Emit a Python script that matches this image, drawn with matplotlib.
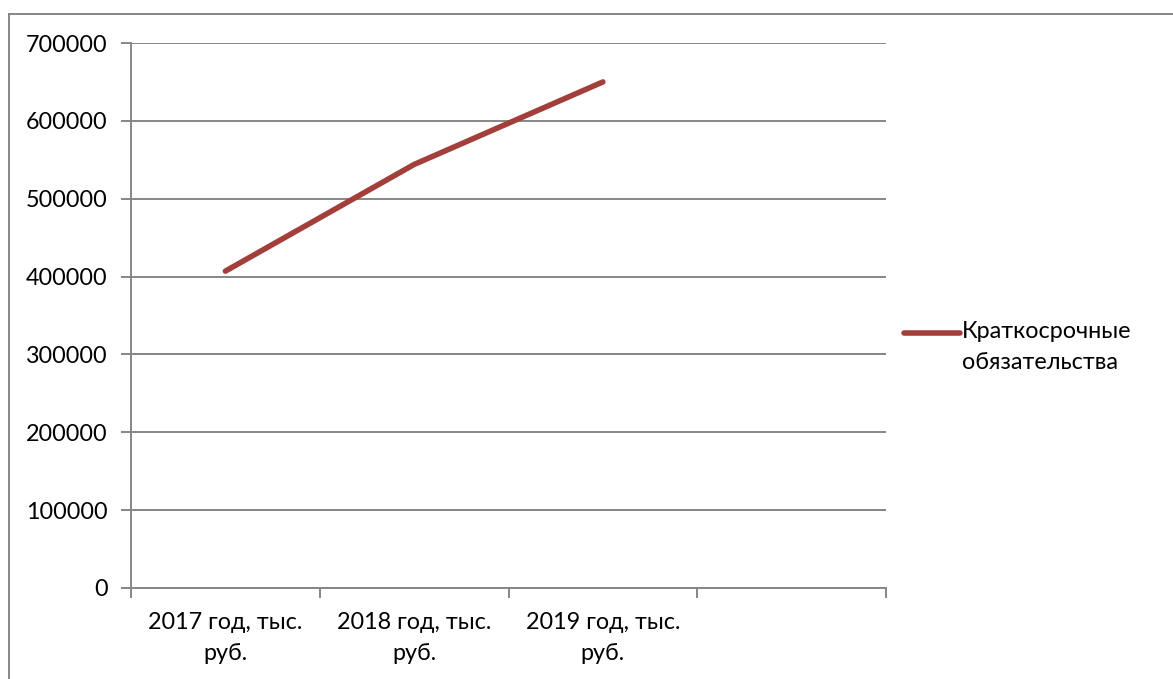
import matplotlib
matplotlib.use("Agg")
import matplotlib.pyplot as plt
from matplotlib.lines import Line2D

plt.rcParams["font.family"] = ["Lato", "DejaVu Sans"]

# short-term liabilities by year, thousand rubles
categories = ["2017 год, тыс.\nруб.", "2018 год, тыс.\nруб.", "2019 год, тыс.\nруб.", ""]
liabilities = [407000, 544000, 650000]
series_name = "Краткосрочные\nобязательства"
y_ticks = [0, 100000, 200000, 300000, 400000, 500000, 600000, 700000]

W, H = 1173, 679
GRID = "#868686"
LINE = "#A33F3B"
FS = 16.8

fig = plt.figure(figsize=(W / 100, H / 100), dpi=100)
ax = fig.add_axes([131 / W, 1 - 588 / H, (886 - 131) / W, (588 - 43) / H])

x = [i + 0.5 for i in range(len(liabilities))]
ax.plot(x, liabilities, color=LINE, lw=4.0, solid_capstyle="round", solid_joinstyle="round", zorder=3)

ax.set_xlim(0, len(categories))
ax.set_ylim(y_ticks[0], y_ticks[-1])
ax.set_yticks(y_ticks)
ax.set_yticklabels([str(v) for v in y_ticks])
ax.yaxis.grid(True, color=GRID, lw=1.4)
ax.set_axisbelow(True)

# category boundaries as major ticks, labels centred between them
ax.set_xticks(range(len(categories) + 1))
ax.set_xticklabels([])
ax.set_xticks([i + 0.5 for i in range(len(categories))], minor=True)
ax.set_xticklabels(categories, minor=True, fontsize=FS, linespacing=1.6)
ax.tick_params(axis="x", which="major", length=7, width=1.4, color=GRID, direction="out")
ax.tick_params(axis="x", which="minor", length=0, pad=17)
ax.tick_params(axis="y", length=7, width=1.4, color=GRID, labelsize=FS, pad=10)

for s in ("top", "right"):
    ax.spines[s].set_visible(False)
for s in ("left", "bottom"):
    ax.spines[s].set_color(GRID)
    ax.spines[s].set_linewidth(1.4)

# legend entry
fig.add_artist(Line2D([904 / W, 960 / W], [1 - 333 / H] * 2, color=LINE, lw=4.0,
                      solid_capstyle="round"))
fig.text(962 / W, 1 - 321 / H, series_name, fontsize=FS, va="top", ha="left", linespacing=1.6)

# chart area frame
fig.add_artist(Line2D([8.5 / W, 1], [1 - 13.5 / H] * 2, color=GRID, lw=1.4))
fig.add_artist(Line2D([8.5 / W] * 2, [0, 1 - 13.5 / H], color=GRID, lw=1.4))

fig.savefig("out.png", dpi=100)
